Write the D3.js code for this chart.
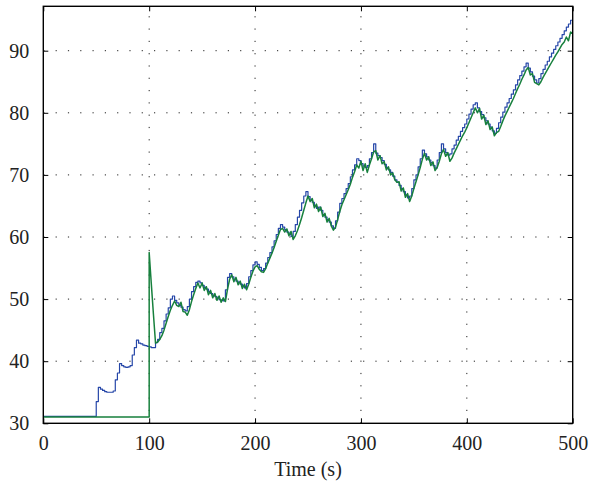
<!doctype html>
<html lang="en">
  <head>
    <meta charset="UTF-8" />
    <title>Time response</title>
    <script src="https://d3js.org/d3.v7.min.js"></script>
    <style>
      body {
        margin: 0;
        padding: 0;
        background: #fff;
        overflow: hidden;
      }
      svg {
        display: block;
      }
    </style>
  </head>
  <body>
    <script>
      // sampling of the two recorded signals (seconds)
      const step = 2;

      const xTicks = [0, 100, 200, 300, 400, 500];
      const yTicks = [30, 40, 50, 60, 70, 80, 90];

      // blue signal, one value every 2 s from t = 0 to t = 500
      const blueValues = [
        31.1, 31.1, 31.1, 31.1, 31.1, 31.1, 31.1, 31.1, 31.1, 31.1,
        31.1, 31.1, 31.1, 31.1, 31.1, 31.1, 31.1, 31.1, 31.1, 31.1,
        31.1, 31.1, 31.1, 31.1, 31.1, 33.5, 35.8, 35.5, 35.3, 35.1,
        35.0, 35.0, 35.0, 35.2, 37.0, 38.1, 39.6, 39.3, 39.1, 39.0,
        39.1, 39.3, 41.0, 42.2, 43.4, 42.9, 42.8, 42.6, 42.5, 42.4,
        42.3, 42.2, 42.2, 43.0, 43.5, 44.6, 45.3, 46.5, 47.6, 48.6,
        50.0, 50.5, 49.8, 49.4, 49.0, 48.7, 48.3, 48.1, 48.8, 50.0,
        51.2, 52.0, 52.7, 52.9, 52.6, 52.2, 51.9, 51.6, 51.2, 50.9,
        50.6, 50.4, 50.2, 49.9, 49.8, 49.7, 51.5, 53.5, 54.1, 53.6,
        53.2, 52.9, 52.7, 52.4, 52.1, 51.8, 52.5, 53.6, 54.6, 55.5,
        56.0, 55.6, 55.1, 54.6, 54.9, 55.8, 56.7, 57.5, 58.4, 59.4,
        60.4, 61.4, 62.0, 61.6, 61.2, 60.8, 60.4, 60.1, 60.9, 62.0,
        63.2, 64.3, 65.5, 66.6, 67.3, 66.5, 65.9, 65.6, 65.0, 64.6,
        64.8, 64.3, 63.6, 63.2, 62.8, 62.4, 61.8, 61.4, 62.6, 64.0,
        65.4, 66.2, 67.0, 67.8, 68.6, 69.7, 70.8, 71.6, 72.6, 72.3,
        71.8, 71.4, 71.2, 71.5, 72.6, 73.6, 75.0, 73.5, 73.1, 72.8,
        72.3, 71.7, 71.2, 70.8, 70.4, 69.8, 69.2, 68.8, 68.3, 67.8,
        67.3, 66.8, 66.3, 66.6, 67.8, 69.2, 70.0, 71.3, 72.6, 74.0,
        73.4, 72.9, 72.4, 72.0, 71.5, 71.1, 72.4, 73.6, 75.0, 74.2,
        73.6, 73.2, 73.4, 74.2, 74.8, 75.6, 76.2, 77.0, 77.6, 78.2,
        79.0, 79.8, 80.6, 81.3, 81.6, 80.8, 80.2, 79.7, 79.2, 78.7,
        78.2, 77.7, 77.1, 76.7, 77.5, 78.4, 79.3, 80.1, 80.9, 81.6,
        82.3, 83.0, 83.7, 84.5, 85.3, 86.0, 86.7, 87.4, 88.0, 87.2,
        86.6, 85.9, 85.3, 84.8, 85.5, 86.3, 87.0, 87.7, 88.3, 89.0,
        89.6, 90.2, 90.8, 91.4, 92.0, 92.6, 93.2, 93.8, 94.3, 94.9,
        95.4
      ];

      // green signal: flat until the switch at t = 100, then one value every 2 s
      const greenStart = 100;
      const greenFlat = 31.0;
      const greenValues = [
        57.5, 52.5, 47.6, 42.9, 43.1, 43.5, 44.1, 45.0, 46.1, 47.2,
        48.2, 49.0, 49.7, 49.0, 48.8, 49.5, 48.0, 47.9, 47.4, 48.3,
        49.6, 50.7, 51.7, 52.6, 51.8, 52.6, 51.4, 52.0, 50.7, 51.4,
        50.2, 50.9, 49.8, 50.5, 49.5, 50.2, 49.6, 51.6, 53.2, 53.9,
        52.8, 53.5, 52.3, 52.9, 51.7, 52.4, 51.5, 52.4, 53.5, 54.5,
        55.2, 55.4, 54.8, 54.4, 54.3, 54.9, 55.8, 56.6, 57.4, 58.3,
        59.3, 60.3, 61.2, 61.4, 60.8, 61.3, 60.2, 60.9, 59.6, 60.2,
        61.0, 62.0, 63.1, 64.3, 65.5, 66.6, 65.7, 66.2, 64.7, 65.3,
        64.1, 64.8, 63.3, 63.8, 62.4, 63.0, 61.8, 61.1, 61.6, 62.8,
        64.1, 65.2, 66.0, 66.8, 67.6, 68.5, 69.6, 70.5, 71.6, 71.1,
        72.2, 70.7, 71.8, 70.4, 71.6, 72.6, 73.7, 73.9, 72.4, 73.1,
        71.8, 72.1, 70.8, 71.3, 70.0, 70.3, 69.2, 68.8, 68.9, 67.4,
        67.9, 66.4, 67.0, 65.7, 66.6, 67.8, 68.9, 70.0, 71.2, 72.5,
        73.5, 72.4, 72.9, 71.5, 72.1, 70.7, 71.2, 72.2, 73.4, 74.1,
        73.0, 73.6, 72.2, 72.7, 73.5, 74.2, 74.9, 75.6, 76.3, 76.9,
        77.6, 78.4, 79.2, 80.0, 80.8, 80.0, 80.7, 79.0, 79.6, 78.1,
        78.7, 77.3, 77.7, 76.3, 76.8, 77.0, 77.8, 78.7, 79.5, 80.2,
        80.9, 81.6, 82.3, 83.1, 83.9, 84.6, 85.4, 86.1, 86.9, 87.3,
        86.1, 86.3, 84.9, 84.7, 84.5, 85.0, 85.7, 86.3, 86.9, 87.5,
        88.1, 88.7, 89.3, 89.8, 90.4, 91.0, 91.4, 92.2, 91.6, 93.0,
        92.8
      ];

      const width = 589;
      const height = 489;
      const margin = { top: 6.3, right: 16.3, bottom: 65.7, left: 43.3 };
      const font = "'Liberation Serif', 'DejaVu Serif', serif";

      const x = d3
        .scaleLinear()
        .domain([0, 500])
        .range([margin.left, width - margin.right]);
      const y = d3
        .scaleLinear()
        .domain([30, 97.15])
        .range([height - margin.bottom, margin.top]);

      const blue = blueValues.map((v, i) => [i * step, v]);
      const green = [[0, greenFlat], [greenStart, greenFlat]].concat(
        greenValues.map((v, i) => [greenStart + i * step, v]),
      );

      const svg = d3
        .select("body")
        .append("svg")
        .attr("width", width)
        .attr("height", height)
        .attr("viewBox", `0 0 ${width} ${height}`);

      const x0 = x.range()[0];
      const x1 = x.range()[1];
      const y0 = y.range()[0];
      const y1 = y.range()[1];

      // dotted grid
      const grid = svg
        .append("g")
        .attr("stroke", "#222")
        .attr("stroke-width", 1)
        .attr("stroke-dasharray", "1.2,11.1");
      grid
        .selectAll("line.gx")
        .data(xTicks.slice(1, -1))
        .join("line")
        .attr("class", "gx")
        .attr("x1", (d) => x(d))
        .attr("x2", (d) => x(d))
        .attr("y1", y0)
        .attr("y2", y1);
      grid
        .selectAll("line.gy")
        .data(yTicks.slice(1))
        .join("line")
        .attr("class", "gy")
        .attr("x1", x0)
        .attr("x2", x1)
        .attr("y1", (d) => y(d))
        .attr("y2", (d) => y(d));

      // clip so the lines stay inside the box
      svg
        .append("clipPath")
        .attr("id", "plot")
        .append("rect")
        .attr("x", x0)
        .attr("y", y1)
        .attr("width", x1 - x0)
        .attr("height", y0 - y1);

      const lines = svg.append("g").attr("clip-path", "url(#plot)").attr("fill", "none");

      lines
        .append("path")
        .datum(blue)
        .attr("stroke", "#2546a8")
        .attr("stroke-width", 1.2)
        .attr("stroke-linejoin", "round")
        .attr(
          "d",
          d3
            .line()
            .curve(d3.curveStepAfter)
            .x((d) => x(d[0]))
            .y((d) => y(d[1])),
        );

      lines
        .append("path")
        .datum(green)
        .attr("stroke", "#17803d")
        .attr("stroke-width", 1.5)
        .attr("stroke-linejoin", "round")
        .attr(
          "d",
          d3
            .line()
            .x((d) => x(d[0]))
            .y((d) => y(d[1])),
        );

      // axes: ticks on all four sides, pointing inwards
      const tickLen = 5;
      const axisStyle = (g) => {
        g.attr("font-family", null).attr("font-size", null);
        g.select(".domain").remove();
        g.selectAll(".tick line").attr("stroke", "#000").attr("stroke-width", 1);
        g.selectAll(".tick text")
          .attr("fill", "#222")
          .attr("font-family", font)
          .attr("font-size", 20);
      };

      svg
        .append("g")
        .attr("transform", `translate(0,${y0})`)
        .call(d3.axisBottom(x).tickValues(xTicks).tickSizeInner(-tickLen).tickSizeOuter(0).tickPadding(13))
        .call(axisStyle);
      svg
        .append("g")
        .attr("transform", `translate(0,${y1})`)
        .call(d3.axisTop(x).tickValues(xTicks).tickSizeInner(-tickLen).tickSizeOuter(0).tickFormat(""))
        .call(axisStyle);
      svg
        .append("g")
        .attr("transform", `translate(${x0},0)`)
        .call(d3.axisLeft(y).tickValues(yTicks).tickSizeInner(-tickLen).tickSizeOuter(0).tickPadding(14))
        .call(axisStyle);
      svg
        .append("g")
        .attr("transform", `translate(${x1},0)`)
        .call(d3.axisRight(y).tickValues(yTicks).tickSizeInner(-tickLen).tickSizeOuter(0).tickFormat(""))
        .call(axisStyle);

      // frame
      svg
        .append("rect")
        .attr("x", x0)
        .attr("y", y1)
        .attr("width", x1 - x0)
        .attr("height", y0 - y1)
        .attr("fill", "none")
        .attr("stroke", "#000")
        .attr("stroke-width", 1.4);

      svg
        .append("text")
        .attr("x", (x0 + x1) / 2)
        .attr("y", 476)
        .attr("text-anchor", "middle")
        .attr("fill", "#222")
        .attr("font-family", font)
        .attr("font-size", 20)
        .text("Time (s)");
    </script>
  </body>
</html>
